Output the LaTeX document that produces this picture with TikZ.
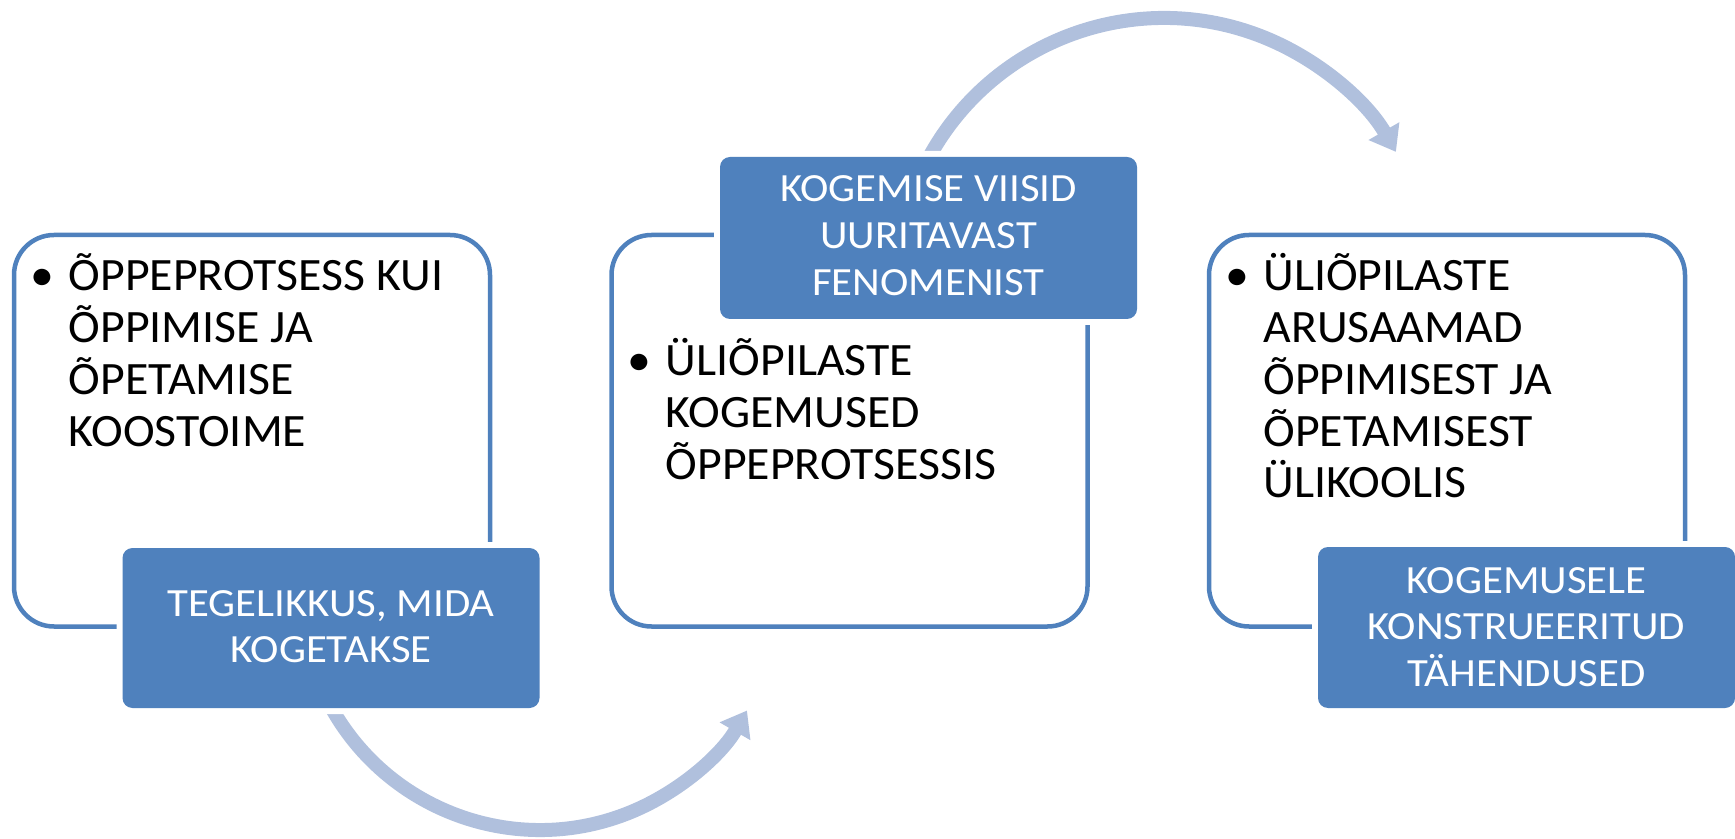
\documentclass[tikz,border=0pt]{standalone}
\usepackage{fontspec}
\setmainfont[FakeStretch=1.03]{Carlito}
\newfontfamily\wfont[FakeStretch=1.07]{Carlito}
\usetikzlibrary{arrows.meta,calc}
\definecolor{accblue}{RGB}{79,129,189}
\definecolor{arrowblue}{RGB}{176,192,221}
\begin{document}
\begin{tikzpicture}[x=0.5pt,y=-0.5pt,
  wbox/.style={draw=accblue, line width=2.25pt, fill=white, rounded corners=20pt,
    minimum width=238pt, minimum height=195.75pt, inner sep=0pt},
  dbox/.style={fill=accblue, rounded corners=5pt, minimum width=208.5pt,
    minimum height=80.5pt, inner sep=0pt, preaction={draw=white, line width=6pt}},
  btext/.style={anchor=base west, inner sep=0pt, text=black,
    font=\fontsize{23.2pt}{25.85pt}\selectfont},
  bulletmark/.style={anchor=base, inner sep=0pt, text=black,
    font=\fontsize{23.2pt}{25.85pt}\selectfont},
  dtext/.style={anchor=base, inner sep=0pt, text=white,
    font=\wfont\fontsize{20pt}{23.35pt}\selectfont},
  flowarc/.style={draw=arrowblue, line width=7pt, -{Triangle[length=12pt, width=17pt]}}
]
\useasboundingbox (0,0) rectangle (1735,839);

% white boxes
\node[wbox] (w1) at (252,430.75) {};
\node[wbox] (w2) at (849.5,430.75) {};
\node[wbox] (w3) at (1447,430.75) {};

% arcs
\coordinate (c1) at (540,591);
\coordinate (c2) at (1164,285.8);
\draw[flowarc] ($(c1)+(155:239)$) coordinate (a1s) arc[start angle=155, end angle=30, radius=239] coordinate (a1e);
\draw[flowarc] ($(c2)+(205:267.8)$) coordinate (a2s) arc[start angle=205, end angle=330, radius=267.8] coordinate (a2e);

% dark boxes
\node[dbox, minimum height=80pt] (d1) at (331,628) {};
\node[dbox, minimum height=81pt] (d2) at (928.5,238) {};
\node[dbox] (d3) at (1526.5,627.5) {};

% texts in white boxes
\node[bulletmark] (b1) at (42,291) {•};
\node[btext] (t1) at (68.5,291) {\parbox[t]{220pt}{\raggedright ÕPPEPROTSESS KUI\\ÕPPIMISE JA\\ÕPETAMISE\\KOOSTOIME}};
\node[bulletmark] (b2) at (639,376) {•};
\node[btext] (t2) at (665.5,376) {\parbox[t]{220pt}{\raggedright ÜLIÕPILASTE\\KOGEMUSED\\ÕPPEPROTSESSIS}};
\node[bulletmark] (b3) at (1237,291) {•};
\node[btext] (t3) at (1263,291) {\parbox[t]{220pt}{\raggedright ÜLIÕPILASTE\\ARUSAAMAD\\ÕPPIMISEST JA\\ÕPETAMISEST\\ÜLIKOOLIS}};

% texts in dark boxes
\node[dtext] (l1) at (331,616) {\parbox[t]{205pt}{\centering TEGELIKKUS, MIDA\\KOGETAKSE}};
\node[dtext] (l2) at (928.5,202) {\parbox[t]{205pt}{\centering KOGEMISE VIISID\\UURITAVAST\\FENOMENIST}};
\node[dtext] (l3) at (1526.5,593) {\parbox[t]{205pt}{\centering KOGEMUSELE\\KONSTRUEERITUD\\TÄHENDUSED}};
\end{tikzpicture}
\end{document}
